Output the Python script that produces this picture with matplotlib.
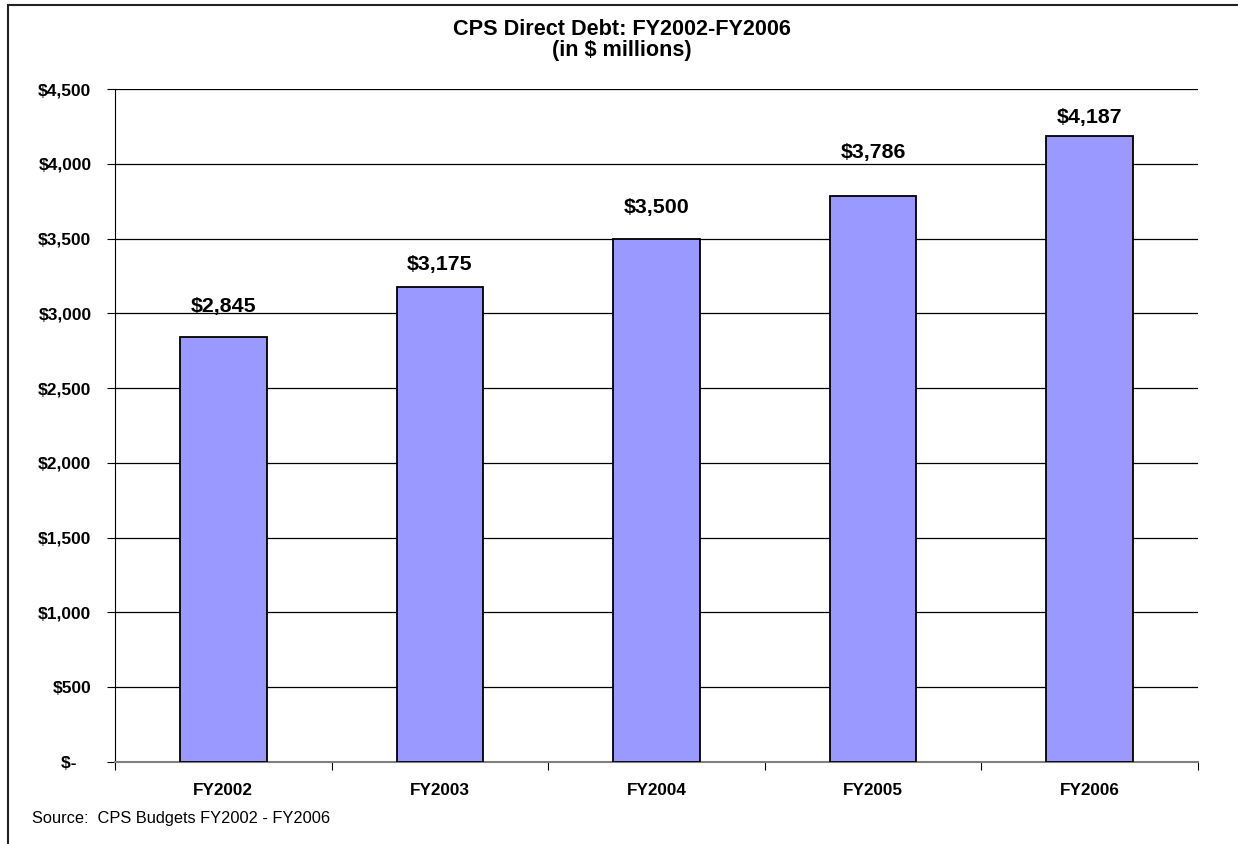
import matplotlib.pyplot as plt
from matplotlib.patches import Rectangle

plt.rcParams['font.family'] = ['Liberation Sans', 'DejaVu Sans']

years = ['FY2002', 'FY2003', 'FY2004', 'FY2005', 'FY2006']
debt = [2845, 3175, 3500, 3786, 4187]
yticks = [0, 500, 1000, 1500, 2000, 2500, 3000, 3500, 4000, 4500]
ylabels = ['$-   ', '$500', '$1,000', '$1,500', '$2,000', '$2,500',
           '$3,000', '$3,500', '$4,000', '$4,500']

W, H = 1238, 844
fig = plt.figure(figsize=(W / 100, H / 100), dpi=100)
# outer chart frame, runs off the right and bottom edges like in the original
fig.patches.append(Rectangle((8 / W, -0.05), 1.1, 1 - 5 / H + 0.05,
                             transform=fig.transFigure, fill=False,
                             edgecolor='#222222', linewidth=1.5))

ax = fig.add_axes([115 / W, 1 - 762 / H, (1198 - 115) / W, (762 - 89) / H])

x = range(len(years))
ax.bar(x, debt, width=0.4, color='#9999ff', edgecolor='black', linewidth=1.3, zorder=3)

# data labels were dragged by hand in the original, so the gap differs per bar
label_gap = [164, 115, 171, 253, 86]
for i, v in enumerate(debt):
    ax.text(i, v + label_gap[i], f'${v:,}', ha='center', va='baseline',
            fontsize=15.4, fontweight='bold')

ax.set_xlim(-0.5, len(years) - 0.5)
ax.set_ylim(0, 4500)
ax.set_yticks(yticks)
ax.set_yticklabels(ylabels, fontsize=12.5, fontweight='bold')
ax.yaxis.grid(True, color='black', linewidth=0.9)
ax.set_axisbelow(True)

# ticks on category boundaries, labels centred under the bars
ax.set_xticks([i - 0.5 for i in range(len(years) + 1)])
ax.set_xticklabels([])
ax.set_xticks(list(x), minor=True)
ax.set_xticklabels(years, minor=True, fontsize=12.3, fontweight='bold')
ax.tick_params(axis='x', which='minor', length=0, pad=15)
ax.tick_params(axis='x', which='major', length=6, direction='out', color='black')
ax.tick_params(axis='y', length=6, direction='out', pad=11)

for s in ['top', 'right']:
    ax.spines[s].set_visible(False)
ax.spines['left'].set_color('black')
ax.spines['bottom'].set_color('#808080')
ax.spines['bottom'].set_linewidth(1.5)

fig.text(622 / W, 1 - 40 / H, 'CPS Direct Debt: FY2002-FY2006\n(in $ millions)',
         ha='center', va='center', fontsize=15.6, fontweight='bold', linespacing=1.05)
fig.text(32 / W, 1 - 819 / H, 'Source:  CPS Budgets FY2002 - FY2006',
         ha='left', va='center', fontsize=11.8)

fig.savefig('out.png', dpi=100)
